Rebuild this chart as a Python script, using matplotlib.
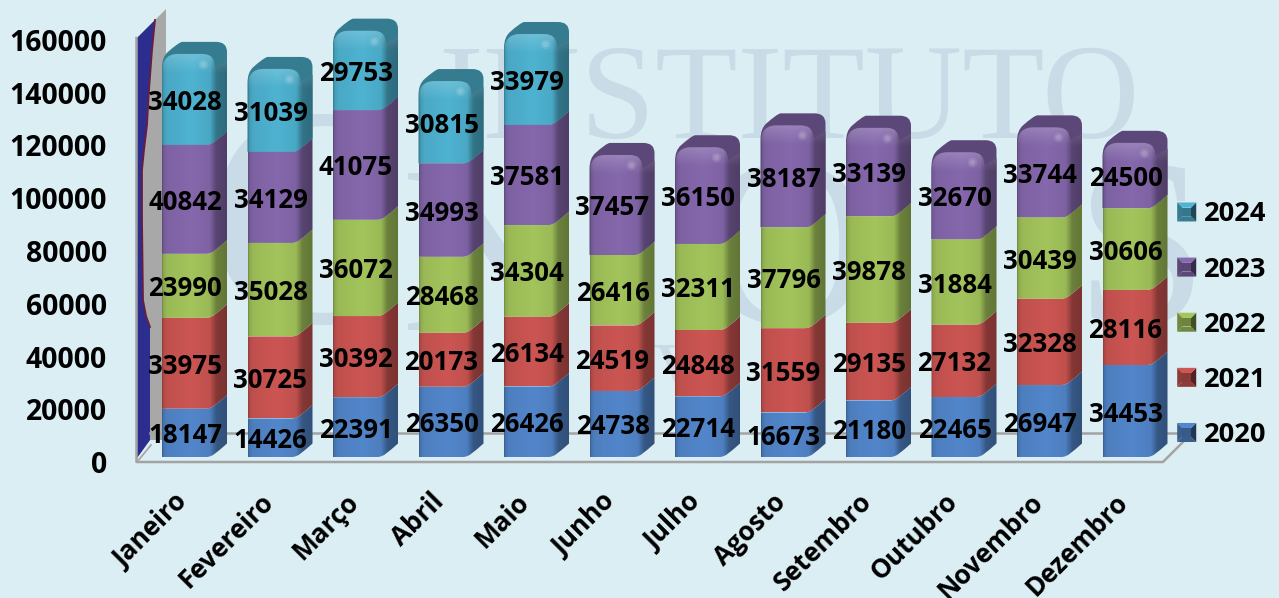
import numpy as np
import matplotlib
matplotlib.use('Agg')
import matplotlib.pyplot as plt
from matplotlib.colors import to_rgb
from matplotlib.legend_handler import HandlerBase
from matplotlib.patches import Patch, Polygon, PathPatch
from matplotlib.path import Path

plt.rcParams['font.family'] = ['Open Sans', 'DejaVu Sans']

# dados
meses = ['Janeiro', 'Fevereiro', 'Março', 'Abril', 'Maio', 'Junho', 'Julho',
         'Agosto', 'Setembro', 'Outubro', 'Novembro', 'Dezembro']
anos = ['2020', '2021', '2022', '2023', '2024']
v2020 = [18147, 14426, 22391, 26350, 26426, 24738, 22714, 16673, 21180, 22465, 26947, 34453]
v2021 = [33975, 30725, 30392, 20173, 26134, 24519, 24848, 31559, 29135, 27132, 32328, 28116]
v2022 = [23990, 35028, 36072, 28468, 34304, 26416, 32311, 37796, 39878, 31884, 30439, 30606]
v2023 = [40842, 34129, 41075, 34993, 37581, 37457, 36150, 38187, 33139, 32670, 33744, 24500]
v2024 = [34028, 31039, 29753, 30815, 33979, 0, 0, 0, 0, 0, 0, 0]
series = [v2020, v2021, v2022, v2023, v2024]
cores = ['#4f81c3', '#c4524f', '#9dbd58', '#8064a6', '#4bacc9']
yticks = [0, 20000, 40000, 60000, 80000, 100000, 120000, 140000, 160000]

W, H = 1279, 598
BG = '#dbeef4'
MARCA = '#c9dbe6'
ESPACO = 85.5      # px entre categorias
ESCALA = 0.00267   # px por unidade
px = 1 / ESPACO
py = 1 / ESCALA

fig = plt.figure(figsize=(W / 100, H / 100), dpi=100, facecolor=BG)

# fundo em pixels: marca d'agua, parede e chao
bg = fig.add_axes([0, 0, 1, 1], zorder=0)
bg.set_xlim(0, W)
bg.set_ylim(H, 0)
bg.axis('off')
bg.text(438, 138, 'INSTITUTO', family='Liberation Serif', fontsize=97, color=MARCA, va='baseline')
bg.text(204, 322, 'C', family='Liberation Serif', fontsize=225, color=MARCA, va='baseline')
bg.text(400, 330, 'N', family='Liberation Serif', fontsize=172, color=MARCA, va='baseline')
bg.text(700, 323, 'O', family='Liberation Serif', fontsize=172, color=MARCA, va='baseline')
bg.text(1075, 323, 'S', family='Liberation Serif', fontsize=172, color=MARCA, va='baseline')
bg.text(652, 398, 'V', family='Liberation Serif', fontsize=60, color=MARCA, va='baseline')

bg.add_patch(Polygon([(137, 38), (166, 9), (166, 440), (150, 440), (137, 458)], fc='#a8a8a8', ec='none'))
curva = [(155, 20), (152, 50), (149, 90), (147, 125), (144, 150), (142, 170), (142, 220), (143, 300),
         (146, 316), (150, 327), (150, 440)]
bg.add_patch(Polygon([(137, 38)] + curva + [(137, 458)], fc='#2c2e8f', ec='none'))
bg.plot([p[0] for p in curva[:-1]], [p[1] for p in curva[:-1]], color='#6a1c3c', lw=1.3)
bg.plot([136.5, 136.5, 1163, 1183], [38, 462, 462, 442], color='#a3a3a3', lw=1.8)
bg.plot([150, 1177], [433, 433], color='#a3a3a3', lw=1.8)
bg.plot([137, 151], [462, 445], color='#a3a3a3', lw=1.2)

# barras: o zero do eixo fica na base das colunas
ax = fig.add_axes([0, 1 - 457 / H, 1, 457 / H], zorder=1)
ax.patch.set_alpha(0)
for s in ax.spines.values():
    s.set_visible(False)
ax.tick_params(left=False, labelleft=False, bottom=False)


def gradiente(cor):
    xs = [0, 0.02, 0.08, 0.45, 0.74, 0.84, 1]
    fs = [0.72, 0.9, 0.98, 1.04, 0.98, 0.68, 0.62]
    t = np.linspace(0, 1, 130)
    f = np.interp(t, xs, fs)
    return np.clip(np.outer(f, to_rgb(cor)), 0, 1)[None, :, :]


def fundo(esq, y0):
    # curva da base do segmento, da esquerda para a direita
    return ([(esq, y0), (esq + 44 * px, y0), (esq + 51 * px, y0), (esq + 55 * px, y0 + 5 * py),
             (esq + 65 * px, y0 + 13.5 * py)],
            [Path.MOVETO, Path.LINETO, Path.CURVE4, Path.CURVE4, Path.CURVE4])


def segmento(i, y0, y1, cor, topo):
    esq = i - 24 * px
    dir_ = esq + 65 * px
    v, c = fundo(esq, y0)
    if topo:
        # silhueta com a tampa escura
        vs = v + [(dir_, y1 + 2 * py), (dir_, y1 + 12 * py), (dir_ - 11 * px, y1 + 12 * py),
                  (esq + 20 * px, y1 + 12 * py), (esq + 16 * px, y1 + 11 * py), (esq + 6 * px, y1 + 2 * py),
                  (esq, y1 - 3 * py), (esq, y1 - 14 * py), (esq, y0)]
        cs = c + [Path.LINETO, Path.CURVE3, Path.CURVE3, Path.LINETO, Path.CURVE3, Path.CURVE3,
                  Path.CURVE3, Path.CURVE3, Path.CLOSEPOLY]
        tampa = np.array(to_rgb(cor)) * 0.72
        ax.add_patch(PathPatch(Path(vs, cs), fc=tampa, ec='none', zorder=2))
        vs = v + [(dir_, y1 - 6 * py), (esq + 53 * px, y1 - 13 * py), (esq + 53 * px, y1),
                  (esq + 40 * px, y1), (esq + 16 * px, y1), (esq, y1), (esq, y1 - 18 * py), (esq, y0)]
        cs = c + [Path.LINETO, Path.LINETO, Path.CURVE3, Path.CURVE3, Path.LINETO, Path.CURVE3,
                  Path.CURVE3, Path.CLOSEPOLY]
    else:
        vs = v + [(dir_, y1 + 13.5 * py), (esq + 55 * px, y1 + 5 * py), (esq + 51 * px, y1),
                  (esq + 44 * px, y1), (esq, y1), (esq, y0)]
        cs = c + [Path.LINETO, Path.CURVE4, Path.CURVE4, Path.CURVE4, Path.LINETO, Path.CLOSEPOLY]
    caminho = PathPatch(Path(vs, cs), fc='none', ec='none', transform=ax.transData)
    ax.add_patch(caminho)
    im = ax.imshow(gradiente(cor), extent=(esq, dir_, y0, y1 + 14 * py), aspect='auto',
                   interpolation='bilinear', zorder=3)
    im.set_clip_path(caminho)
    if topo:
        # brilho no alto da frente
        luz = np.ones((20, 2, 4))
        luz[:, :, 3] = np.linspace(0.18, 0, 20)[:, None]
        im2 = ax.imshow(luz, extent=(esq, dir_, y1 - 20 * py, y1), aspect='auto',
                        interpolation='bilinear', zorder=4)
        im2.set_clip_path(caminho)
        ax.plot(esq + 41 * px, y1 - 10 * py, 'o', ms=7, color='white', alpha=0.1, mec='none', zorder=4)
        ax.plot(esq + 41 * px, y1 - 10 * py, 'o', ms=4, color='white', alpha=0.14, mec='none', zorder=4)


for i in range(len(meses)):
    base = 0
    ultimo = max(k for k in range(len(series)) if series[k][i] > 0)
    for k, serie in enumerate(series):
        val = serie[i]
        if val == 0:
            continue
        segmento(i, base, base + val, cores[k], k == ultimo)
        ax.text(i - 1 * px, base + val / 2 - 3 * py, str(val), ha='center', va='center',
                fontsize=18.6, fontweight='bold', color='black', zorder=6)
        base += val

ax.set_xticks(np.arange(len(meses)) - 12 * px)
ax.set_xticklabels(meses, rotation=45, ha='right', rotation_mode='anchor',
                   fontsize=18.8, fontweight='bold', color='black')
ax.tick_params(axis='x', pad=19)
ax.set_xlim(-186 * px, (W - 186) * px)
ax.set_ylim(0, 457 * py)

# eixo y: os rotulos ficam na escala da parede
ay = fig.add_axes([112 / W, 1 - 462 / H, 1 / W, 422 / H], zorder=2)
ay.patch.set_alpha(0)
ay.set_ylim(0, 160000)
ay.set_xticks([])
ay.set_yticks(yticks)
ay.set_yticklabels([str(t) for t in yticks], fontsize=20.4, fontweight='bold')
ay.tick_params(axis='y', length=0, pad=3.5)
for s in ay.spines.values():
    s.set_visible(False)


# chave da legenda em forma de piramide
class Piramide(HandlerBase):
    def create_artists(self, legend, orig, x0, y0, width, height, fontsize, trans):
        cor = np.array(to_rgb(orig.get_facecolor()))
        lado = 13.7
        cx, cy = x0 + width - lado / 2, y0 + height / 2
        a, b = lado / 2, lado / 2
        i_ = 0.45
        cantos = [(cx - a, cy - b), (cx + a, cy - b), (cx + a, cy + b), (cx - a, cy + b)]
        meio = [(cx - a * i_, cy - b * i_), (cx + a * i_, cy - b * i_), (cx + a * i_, cy + b * i_),
                (cx - a * i_, cy + b * i_)]
        tons = [0.72, 0.42, 1.05, 0.72]
        saida = []
        for n in range(4):
            m = (n + 1) % 4
            p = Polygon([cantos[n], cantos[m], meio[m], meio[n]], fc=np.clip(cor * tons[n], 0, 1), ec='none')
            p.set_transform(trans)
            saida.append(p)
        p = Polygon(meio, fc=cor * 0.7, ec='none')
        p.set_transform(trans)
        saida.append(p)
        return saida


chaves = [Patch(fc=cores[k], label=anos[k]) for k in range(4, -1, -1)]
leg = ax.legend(handles=chaves, handler_map={Patch: Piramide()}, loc='lower left',
                bbox_to_anchor=(1169 / W, 1 - 448 / H), bbox_transform=fig.transFigure, frameon=False,
                prop={'size': 19.6, 'weight': 'bold'},
                labelspacing=1.07, handlelength=1.0, handletextpad=0.29, borderpad=0, borderaxespad=0)
leg.set_zorder(7)

fig.savefig('out.png', dpi=100, facecolor=BG)
